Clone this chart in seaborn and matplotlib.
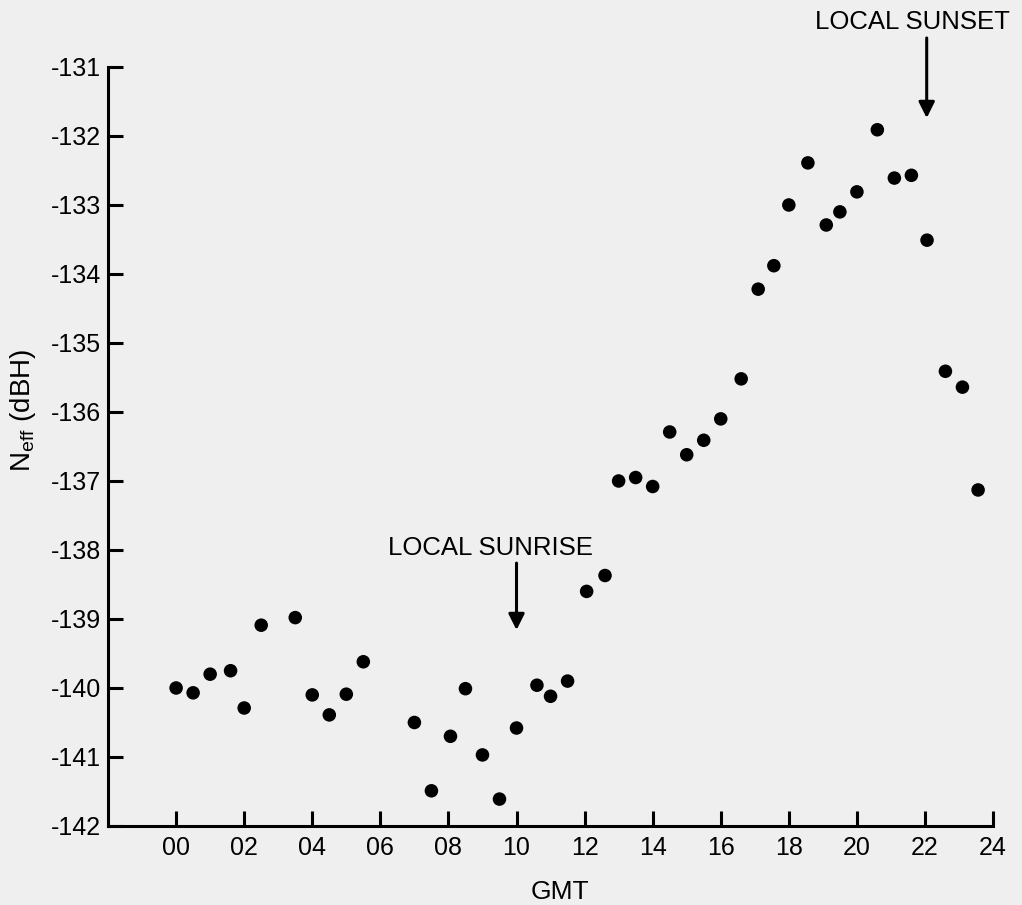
import pandas as pd
import matplotlib.pyplot as plt
import seaborn as sns

# hour of day (GMT) and effective noise level
gmt_hours = [0.0, 0.5, 1.0, 1.6, 2.0, 2.5, 3.5, 4.0, 4.5, 5.0, 5.5,
             7.0, 7.5, 8.06, 8.5, 9.0, 9.5, 10.0, 10.6, 11.0, 11.5,
             12.06, 12.6, 13.0, 13.5, 14.0, 14.5, 15.0, 15.5, 16.0, 16.6,
             17.1, 17.56, 18.0, 18.56, 19.1, 19.5, 20.0, 20.6, 21.1, 21.6,
             22.06, 22.6, 23.1, 23.56]
neff_dbh = [-140.0, -140.07, -139.8, -139.75, -140.29, -139.09, -138.98, -140.1, -140.39, -140.09, -139.62,
            -140.5, -141.49, -140.7, -140.01, -140.97, -141.61, -140.58, -139.96, -140.12, -139.9,
            -138.6, -138.37, -137.0, -136.95, -137.08, -136.29, -136.62, -136.41, -136.1, -135.52,
            -134.22, -133.88, -133.0, -132.39, -133.29, -133.1, -132.81, -131.91, -132.61, -132.57,
            -133.51, -135.41, -135.64, -137.13]

x_ticks = list(range(0, 25, 2))
x_tick_labels = [f"{h:02d}" for h in x_ticks]
y_ticks = list(range(-142, -130))
y_tick_labels = [f"-{abs(v)}" for v in y_ticks]

df = pd.DataFrame({"GMT": gmt_hours, "Neff": neff_dbh})

sns.set_style("ticks")
plt.rcParams["font.family"] = ["Liberation Sans", "DejaVu Sans"]
plt.rcParams["mathtext.fontset"] = "custom"
plt.rcParams["mathtext.rm"] = "Liberation Sans"
plt.rcParams["mathtext.it"] = "Liberation Sans"
plt.rcParams["text.color"] = "black"

bg = "#efefef"
fig = plt.figure(figsize=(10.22, 9.05), dpi=100, facecolor=bg)
ax = fig.add_axes([0.1057, 0.0873, 0.866, 0.8387], facecolor=bg)

sns.scatterplot(data=df, x="GMT", y="Neff", ax=ax, color="black",
                s=95, edgecolor="none", zorder=3)

ax.set_xlim(-2, 24)
ax.set_ylim(-142, -131)
ax.set_xticks(x_ticks, x_tick_labels)
ax.set_yticks(y_ticks, y_tick_labels)

# axis styling, ticks point inwards like the original figure
sns.despine(ax=ax)
for side in ["left", "bottom"]:
    ax.spines[side].set_linewidth(2.2)
    ax.spines[side].set_color("black")
ax.tick_params(axis="both", direction="in", width=2.2, length=11,
               labelsize=18, colors="black")
ax.tick_params(axis="x", pad=7)
ax.tick_params(axis="y", pad=5)

ax.set_xlabel("GMT", fontsize=19, color="black")
ax.xaxis.set_label_coords(0.5106, -0.0712)
ax.set_ylabel(r"N$_{\mathrm{eff}}$ (dBH)", fontsize=20, color="black")
ax.yaxis.set_label_coords(-0.079, 0.547)

# sunrise / sunset markers
ax.text(9.24, -137.97, "LOCAL SUNRISE", fontsize=18.5, ha="center", va="center")
ax.annotate("", xy=(10, -139.16), xytext=(10, -138.19),
            arrowprops=dict(arrowstyle="-|>", color="black", lw=2.2,
                            mutation_scale=24, shrinkA=0, shrinkB=0))
ax.text(21.62, -130.35, "LOCAL SUNSET", fontsize=18.5, ha="center", va="center",
        clip_on=False)
ax.annotate("", xy=(22.05, -131.74), xytext=(22.05, -130.58),
            arrowprops=dict(arrowstyle="-|>", color="black", lw=2.2,
                            mutation_scale=24, shrinkA=0, shrinkB=0),
            annotation_clip=False)

plt.savefig("out.png", dpi=100, facecolor=bg)
plt.close()
